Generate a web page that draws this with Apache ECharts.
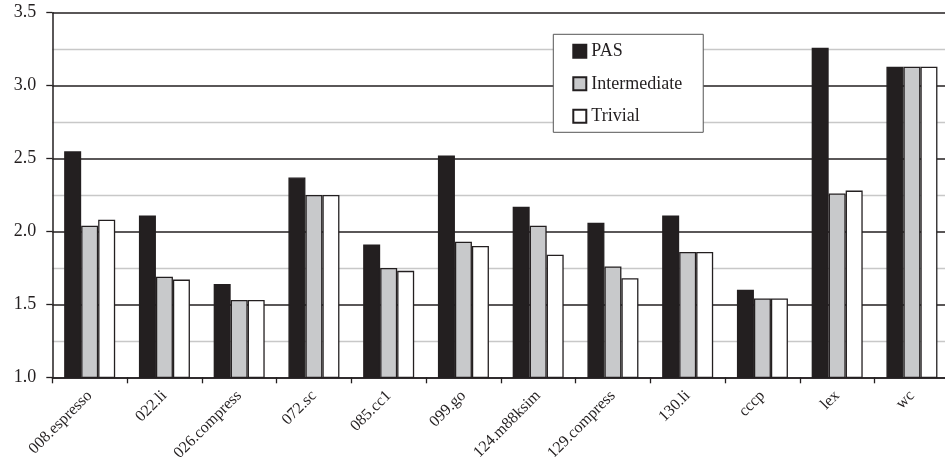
<!DOCTYPE html>
<html>
<head>
<meta charset="utf-8">
<script src="https://cdn.jsdelivr.net/npm/echarts@6/dist/echarts.min.js"></script>
<style>html,body{margin:0;padding:0;background:#fff;}#c{width:945px;height:457px;}</style>
</head>
<body>
<div id="c"></div>
<script>
const categories = ["008.espresso","022.li","026.compress","072.sc","085.cc1","099.go","124.m88ksim","129.compress","130.li","cccp","lex","wc"];
const pasValues = [2.55, 2.11, 1.64, 2.37, 1.91, 2.52, 2.17, 2.06, 2.11, 1.60, 3.26, 3.13];
const intermediateValues = [2.04, 1.69, 1.53, 2.25, 1.75, 1.93, 2.04, 1.76, 1.86, 1.54, 2.26, 3.13];
const trivialValues = [2.08, 1.67, 1.53, 2.25, 1.73, 1.90, 1.84, 1.68, 1.86, 1.54, 2.28, 3.13];
const seriesNames = ["PAS", "Intermediate", "Trivial"];
const yTicks = [1.0, 1.5, 2.0, 2.5, 3.0, 3.5];

const FONT = "'Liberation Serif', 'Times New Roman', serif";
const INK = "#231f20";
const chart = echarts.init(document.getElementById('c'), null, {renderer: 'canvas'});

function mkSeries(name, data, color) {
  return {
    name: name,
    type: 'bar',
    data: data,
    barWidth: 17,
    barGap: '0%',
    itemStyle: {color: color, borderColor: INK, borderWidth: 1.3},
    emphasis: {disabled: true},
    animation: false
  };
}

chart.setOption({
  backgroundColor: '#fff',
  animation: false,
  grid: {
    left: 52.3, top: 12.7, width: 897, bottom: 79.7,
    containLabel: false, outerBoundsMode: 'none'
  },
  legend: {
    data: seriesNames,
    orient: 'vertical',
    left: 553.3, top: 34.3,
    padding: [7, 21, 6, 19],
    itemWidth: 13, itemHeight: 13,
    itemGap: 12.5,
    borderColor: '#555', borderWidth: 1,
    backgroundColor: '#fff',
    icon: 'rect',
    textStyle: {fontFamily: FONT, fontSize: 18, color: INK, lineHeight: 20},
    selectedMode: false
  },
  xAxis: {
    type: 'category',
    data: categories,
    boundaryGap: true,
    axisLine: {show: true, lineStyle: {color: INK, width: 1.5}},
    axisTick: {show: true, length: 6, lineStyle: {color: INK, width: 1.3}},
    axisLabel: {
      interval: 0, rotate: 45, margin: 16,
      fontFamily: FONT, fontSize: 16, color: INK
    },
    splitLine: {show: false}
  },
  yAxis: {
    type: 'value',
    min: yTicks[0], max: yTicks[yTicks.length - 1], interval: 0.5,
    axisLine: {show: true, lineStyle: {color: INK, width: 1.5}},
    axisTick: {show: true, length: 6, lineStyle: {color: INK, width: 1.3}},
    axisLabel: {
      margin: 16, fontFamily: FONT, fontSize: 18, color: INK,
      padding: [6, 0, 0, 0],
      formatter: function (v) { return v.toFixed(1); }
    },
    splitLine: {show: true, lineStyle: {color: INK, width: 1.5}},
    minorTick: {show: false, splitNumber: 2},
    minorSplitLine: {show: true, lineStyle: {color: '#c8c8c8', width: 1.3}}
  },
  series: [
    mkSeries(seriesNames[0], pasValues, '#231f20'),
    mkSeries(seriesNames[1], intermediateValues, '#c8c9cb'),
    mkSeries(seriesNames[2], trivialValues, '#ffffff')
  ]
});
</script>
</body>
</html>
